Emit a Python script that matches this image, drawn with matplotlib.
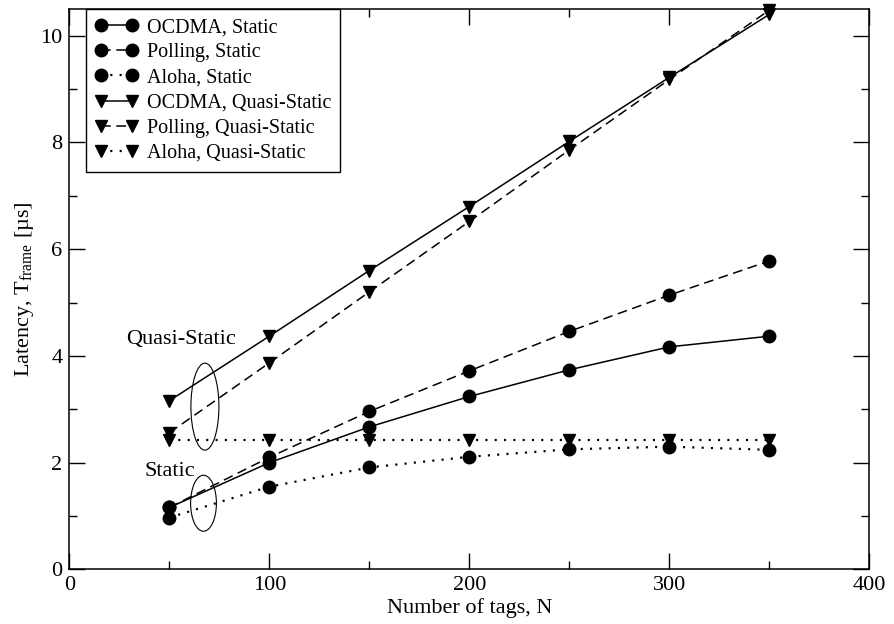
import matplotlib
matplotlib.use('Agg')
import matplotlib.pyplot as plt
from matplotlib.patches import Ellipse
from matplotlib.ticker import MultipleLocator

plt.rcParams['font.family'] = ['Liberation Serif', 'DejaVu Serif']
plt.rcParams['mathtext.fontset'] = 'custom'
plt.rcParams['mathtext.rm'] = 'Liberation Serif'
plt.rcParams['lines.scale_dashes'] = False

# --- data ---
tags = [50, 100, 150, 200, 250, 300, 350]

ocdma_static = [1.16, 2.00, 2.67, 3.24, 3.74, 4.17, 4.37]
polling_static = [1.16, 2.10, 2.96, 3.72, 4.46, 5.14, 5.78]
aloha_static = [0.97, 1.55, 1.91, 2.11, 2.25, 2.30, 2.24]

ocdma_quasi = [3.16, 4.37, 5.60, 6.80, 8.02, 9.22, 10.40]
polling_quasi = [2.56, 3.87, 5.20, 6.52, 7.86, 9.18, 10.48]
aloha_quasi = [2.43, 2.43, 2.43, 2.43, 2.43, 2.43, 2.43]

fig = plt.figure(figsize=(8.94, 6.24), dpi=100)
ax = fig.add_axes([0.0775, 0.0875, 0.895, 0.898])

solid = '-'
dashed = (0, (7, 4))
dotted = (0, (1.5, 5.2))

series = [
    (ocdma_static, 'o', solid, 'OCDMA, Static'),
    (polling_static, 'o', dashed, 'Polling, Static'),
    (aloha_static, 'o', dotted, 'Aloha, Static'),
    (ocdma_quasi, 'v', solid, 'OCDMA, Quasi-Static'),
    (polling_quasi, 'v', dashed, 'Polling, Quasi-Static'),
    (aloha_quasi, 'v', dotted, 'Aloha, Quasi-Static'),
]
for vals, mk, ls, lab in series:
    lw = 1.6 if ls is dotted else 1.1
    ax.plot(tags, vals, color='black', marker=mk, markersize=9, linestyle=ls,
            linewidth=lw, label=lab, clip_on=False)

# annotation ellipses
ax.add_patch(Ellipse((67.8, 3.05), 14, 1.63, fill=False, edgecolor='black', linewidth=0.8))
ax.add_patch(Ellipse((67.1, 1.24), 12.9, 1.05, fill=False, edgecolor='black', linewidth=0.8))
ax.text(28.6, 4.3, 'Quasi-Static', fontsize=16, va='center', ha='left')
ax.text(37.7, 1.83, 'Static', fontsize=16, va='center', ha='left')

ax.set_xlim(0, 400)
ax.set_ylim(0, 10.5)
ax.xaxis.set_major_locator(MultipleLocator(100))
ax.xaxis.set_minor_locator(MultipleLocator(50))
ax.yaxis.set_major_locator(MultipleLocator(2))
ax.yaxis.set_minor_locator(MultipleLocator(1))
ax.tick_params(which='both', direction='in', top=True, right=True, labelsize=16, width=1)
ax.tick_params(which='major', length=11.5, pad=5)
ax.tick_params(which='minor', length=5.8)
for sp in ax.spines.values():
    sp.set_linewidth(1.1)

ax.set_xlabel('Number of tags, N', fontsize=16, labelpad=2)
ax.set_ylabel(r'Latency, T$_{\mathrm{frame}}$ [µs]', fontsize=16, labelpad=3)

leg = ax.legend(loc='upper left', bbox_to_anchor=(0.021, 1.0), borderaxespad=0,
                fontsize=14.5, frameon=True, fancybox=False, edgecolor='black',
                framealpha=1, handlelength=2.12, handletextpad=0.43,
                labelspacing=0.3, borderpad=0.45, numpoints=2)
leg.get_frame().set_linewidth(1.0)

plt.savefig('out.png', dpi=100)
plt.close()
